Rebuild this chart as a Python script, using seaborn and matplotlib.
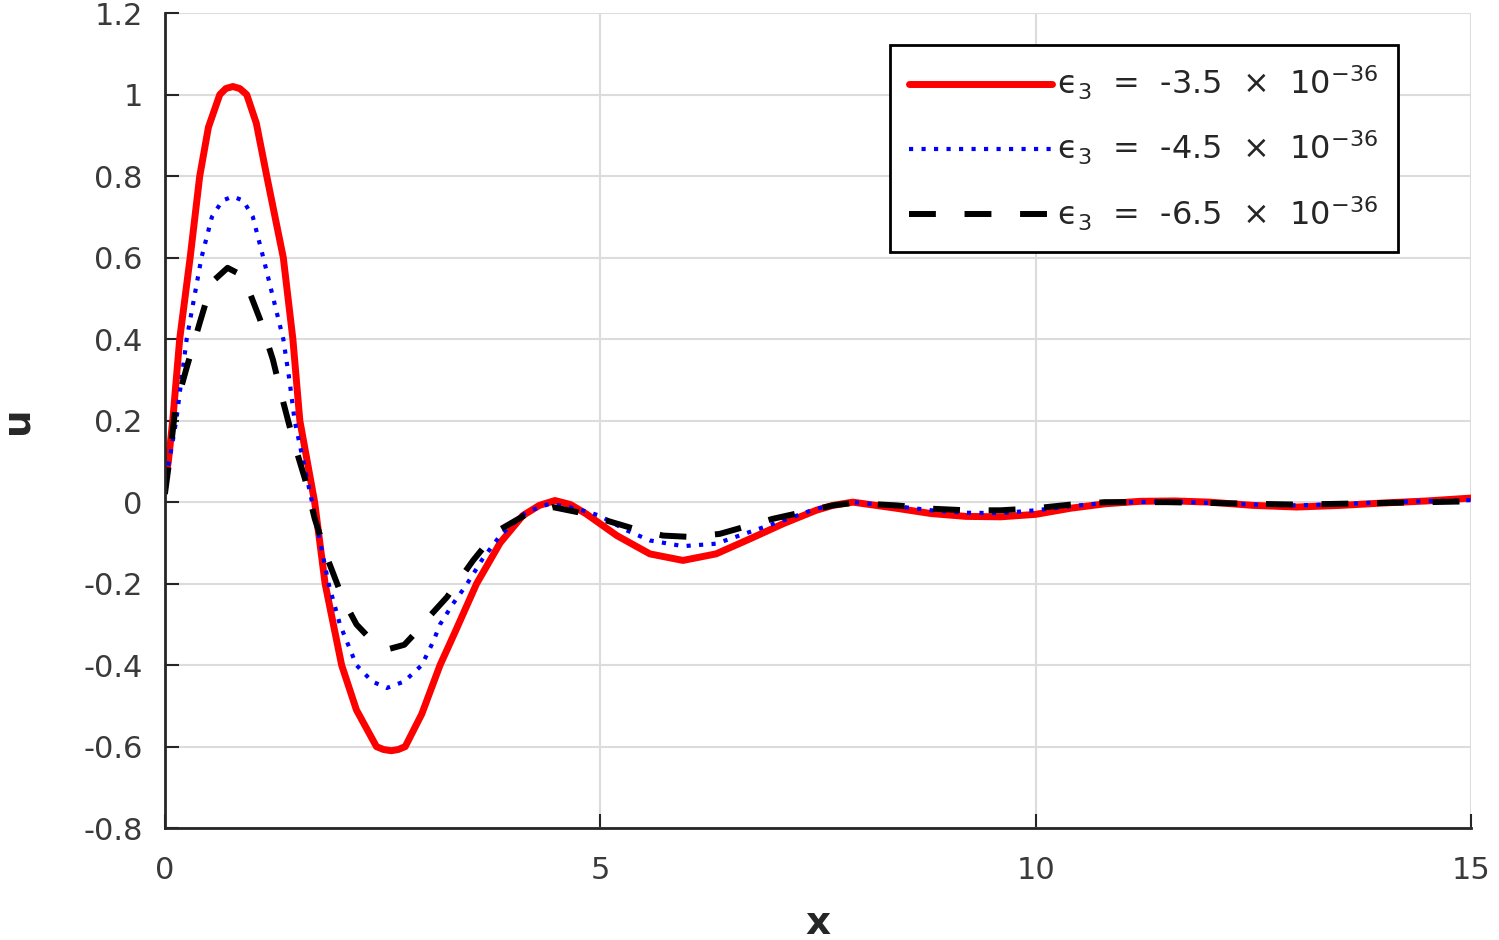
import numpy as np
import pandas as pd
import seaborn as sns
import matplotlib.pyplot as plt
from matplotlib.ticker import FuncFormatter

# values
x_red = [0.0, 0.04, 0.09, 0.17, 0.29, 0.40, 0.50, 0.63, 0.70, 0.78, 0.86, 0.94, 1.05, 1.17, 1.36, 1.47,
         1.55, 1.72, 1.84, 2.03, 2.20, 2.43, 2.51, 2.60, 2.68, 2.76, 2.95, 3.16, 3.33, 3.58, 3.85, 4.11,
         4.30, 4.48, 4.66, 4.84, 5.19, 5.57, 5.95, 6.33, 6.72, 7.10, 7.48, 7.67, 7.90, 8.40, 8.80, 9.20,
         9.60, 10.0, 10.4, 10.8, 11.2, 11.6, 12.0, 12.5, 13.0, 13.5, 14.0, 14.5, 15.0]
u_red = [0.05, 0.10, 0.20, 0.40, 0.60, 0.80, 0.92, 1.00, 1.015, 1.02, 1.015, 1.00, 0.93, 0.80, 0.60, 0.40,
         0.20, 0.00, -0.20, -0.40, -0.51, -0.60, -0.607, -0.61, -0.607, -0.60, -0.52, -0.40, -0.32, -0.20, -0.10, -0.033,
         -0.008, 0.004, -0.006, -0.029, -0.082, -0.127, -0.143, -0.127, -0.09, -0.053, -0.02, -0.008, 0.0, -0.015, -0.028, -0.035,
         -0.036, -0.030, -0.015, -0.004, 0.002, 0.003, 0.0, -0.008, -0.012, -0.008, -0.002, 0.003, 0.01]

x_blue = [0.0, 0.05, 0.13, 0.25, 0.42, 0.54, 0.66, 0.78, 0.90, 1.01, 1.13, 1.36, 1.43, 1.49,
          1.69, 1.88, 2.01, 2.20, 2.38, 2.55, 2.75, 2.95, 3.08, 3.16, 3.31, 3.46, 3.65, 3.85,
          4.15, 4.42, 4.73, 4.99, 5.30, 5.57, 5.95, 6.33, 6.72, 7.10, 7.48, 7.90, 8.40, 8.80,
          9.20, 9.60, 10.0, 10.4, 10.8, 11.5, 12.5, 13.0, 13.5, 14.0, 15.0]
u_blue = [0.06, 0.10, 0.20, 0.40, 0.60, 0.70, 0.74, 0.75, 0.74, 0.70, 0.60, 0.40, 0.30, 0.20,
          0.00, -0.20, -0.30, -0.40, -0.44, -0.456, -0.44, -0.40, -0.343, -0.30, -0.249, -0.204, -0.139, -0.082,
          -0.024, -0.004, -0.016, -0.033, -0.069, -0.094, -0.108, -0.102, -0.073, -0.045, -0.016, 0.0, -0.01, -0.02,
          -0.026, -0.027, -0.02, -0.01, -0.002, 0.002, -0.006, -0.008, -0.005, 0.0, 0.005]

x_black = [0.0, 0.05, 0.12, 0.25, 0.40, 0.54, 0.72, 0.90, 1.09, 1.24, 1.36, 1.47, 1.61, 1.72,
           1.87, 2.05, 2.20, 2.40, 2.58, 2.75, 2.89, 3.04, 3.24, 3.54, 3.81, 4.15, 4.45, 4.75,
           5.07, 5.40, 5.72, 6.00, 6.37, 6.98, 7.67, 7.90, 8.40, 8.80, 9.20, 9.60, 10.0, 10.4,
           10.8, 11.5, 12.5, 13.0, 14.0, 15.0]
u_black = [0.02, 0.10, 0.23, 0.33, 0.44, 0.54, 0.575, 0.555, 0.45, 0.35, 0.245, 0.155, 0.056, -0.04,
           -0.14, -0.24, -0.30, -0.345, -0.36, -0.35, -0.318, -0.28, -0.233, -0.143, -0.072, -0.03, -0.012, -0.025,
           -0.045, -0.066, -0.082, -0.085, -0.078, -0.041, -0.008, -0.002, -0.008, -0.016, -0.02, -0.02, -0.015, -0.006,
           0.0, 0.0, -0.004, -0.006, -0.002, 0.002]

labels = ['\u03f5$_{3}$  =  -3.5  \u00d7  10$^{-36}$',
          '\u03f5$_{3}$  =  -4.5  \u00d7  10$^{-36}$',
          '\u03f5$_{3}$  =  -6.5  \u00d7  10$^{-36}$']
y_ticks = [-0.8, -0.6, -0.4, -0.2, 0, 0.2, 0.4, 0.6, 0.8, 1, 1.2]
x_ticks = [0, 5, 10, 15]

sns.set_style('ticks')
plt.rcParams['font.family'] = ['DejaVu Sans']
plt.rcParams['axes.unicode_minus'] = False
plt.rcParams['mathtext.fontset'] = 'dejavusans'

fig = plt.figure(figsize=(14.99, 9.40), dpi=100)
ax = fig.add_axes([0.110, 0.119, 0.8713, 0.867])

sns.lineplot(x=x_red, y=u_red, ax=ax, color='#ff0000', linewidth=5, label=labels[0])
sns.lineplot(x=x_blue, y=u_blue, ax=ax, color='#0000ff', linewidth=3.0,
             linestyle=(0, (1, 2)), label=labels[1])
sns.lineplot(x=x_black, y=u_black, ax=ax, color='black', linewidth=4.3,
             linestyle=(0, (4.5, 4.8)), label=labels[2])

ax.set_xlim(0, 15)
ax.set_ylim(-0.8, 1.2)
ax.set_xticks(x_ticks)
ax.set_yticks(y_ticks)
ax.yaxis.set_major_formatter(FuncFormatter(lambda v, p: f'{v:g}'))
ax.grid(True, color='#dcdcdc', linewidth=1.5)
ax.set_axisbelow(True)
sns.despine(ax=ax)
for s in ['left', 'bottom']:
    ax.spines[s].set_linewidth(2)
    ax.spines[s].set_color('#262626')
ax.tick_params(direction='in', length=10, width=1.5, labelsize=22, colors='#262626',
               labelcolor='#3a3a3a')
ax.tick_params(axis='x', pad=20)
ax.tick_params(axis='y', pad=16)

ax.set_xlabel('x', fontsize=28, fontweight='bold', color='#262626', labelpad=14)
ax.set_ylabel('u', fontsize=28, fontweight='bold', color='#262626', labelpad=34)

leg = ax.legend(loc='upper right', bbox_to_anchor=(0.944, 0.961), borderaxespad=0,
                fontsize=23, handlelength=4.5, handletextpad=0.15, labelspacing=0.85,
                borderpad=0.6, fancybox=False, framealpha=1, edgecolor='black')
leg.get_frame().set_linewidth(2)

fig.savefig('out.png', dpi=100)
